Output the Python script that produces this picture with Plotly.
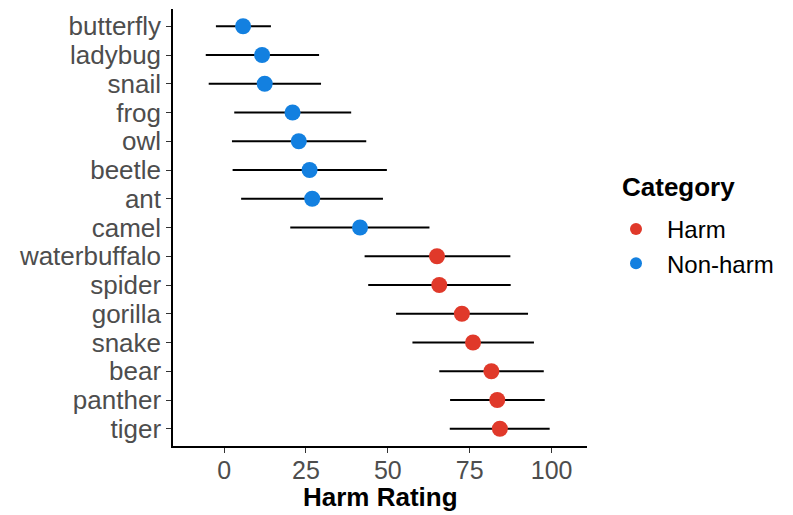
import plotly.graph_objects as go

animals = ["butterfly", "ladybug", "snail", "frog", "owl", "beetle", "ant", "camel",
           "waterbuffalo", "spider", "gorilla", "snake", "bear", "panther", "tiger"]
category = ["Non-harm"] * 8 + ["Harm"] * 7
mean = [5.8, 11.6, 12.4, 20.9, 22.8, 26.1, 26.9, 41.5,
        65.0, 65.7, 72.6, 76.0, 81.6, 83.4, 84.2]
lower = [-2.5, -5.6, -4.7, 3.1, 2.4, 2.6, 5.2, 20.2,
         42.9, 44.0, 52.5, 57.5, 65.7, 69.0, 68.9]
upper = [14.3, 29.0, 29.6, 38.8, 43.4, 49.7, 48.5, 62.7,
         87.4, 87.5, 92.8, 94.6, 97.6, 97.9, 99.4]
x_ticks = [0, 25, 50, 75, 100]
colors = {"Harm": "#E0392A", "Non-harm": "#1380E0"}

fig = go.Figure()
for cat in ["Harm", "Non-harm"]:
    idx = [i for i, c in enumerate(category) if c == cat]
    fig.add_trace(go.Scatter(
        x=[mean[i] for i in idx],
        y=[animals[i] for i in idx],
        mode="markers",
        name=cat,
        marker=dict(color=colors[cat], size=16, line=dict(width=0)),
        error_x=dict(type="data", symmetric=False,
                     array=[upper[i] - mean[i] for i in idx],
                     arrayminus=[mean[i] - lower[i] for i in idx],
                     color="black", thickness=2, width=0),
    ))

# page body adds an 8px offset; work in figure coordinates (screen - 8)
OFF = 8
W, H = 793 - OFF, 515 - OFF
L, T = 173 - OFF, 9 - OFF
R = W - (587 - OFF)
B = H - (446 - OFF)
pw, ph = W - L - R, H - T - B


def px_x(sx):
    return (sx - OFF - L) / pw


def px_y(sy):
    return 1 - (sy - OFF - T) / ph


fig.update_layout(
    width=W, height=H,
    margin=dict(l=L, r=R, t=T, b=B),
    paper_bgcolor="white", plot_bgcolor="white",
    font=dict(family="Liberation Sans, Arial, sans-serif", size=25, color="#4D4D4D"),
    xaxis=dict(range=[-15.6, 110.8], tickmode="array", tickvals=x_ticks,
               showgrid=False, zeroline=False,
               showline=True, linecolor="black", linewidth=1.5,
               ticks="outside", ticklen=5, tickcolor="#333333", tickwidth=1.2,
               ticklabelstandoff=-4,
               tickfont=dict(size=25, color="#4D4D4D")),
    yaxis=dict(type="category", categoryorder="array", categoryarray=animals[::-1],
               tickmode="array", tickvals=animals, ticktext=animals,
               range=[-0.6, 14.6], showgrid=False, zeroline=False,
               showline=True, linecolor="black", linewidth=1.5,
               ticks="outside", ticklen=5, tickcolor="#333333", tickwidth=1.2,
               ticklabelstandoff=0,
               tickfont=dict(size=26, color="#4D4D4D")),
    legend=dict(x=px_x(605), y=px_y(207), xanchor="left", yanchor="top",
                font=dict(size=24, color="black"), itemsizing="constant",
                itemwidth=52, tracegroupgap=0),
    showlegend=True,
    annotations=[
        dict(text="<b>Harm Rating</b>", xref="paper", yref="paper", x=0.5, y=px_y(497),
             xanchor="center", yanchor="middle", showarrow=False,
             font=dict(size=26, color="black")),
        dict(text="<b>Category</b>", xref="paper", yref="paper", x=px_x(620),
             y=px_y(187), xanchor="left", yanchor="middle", showarrow=False,
             font=dict(size=26, color="black")),
    ],
)

fig.write_html("out.html")
